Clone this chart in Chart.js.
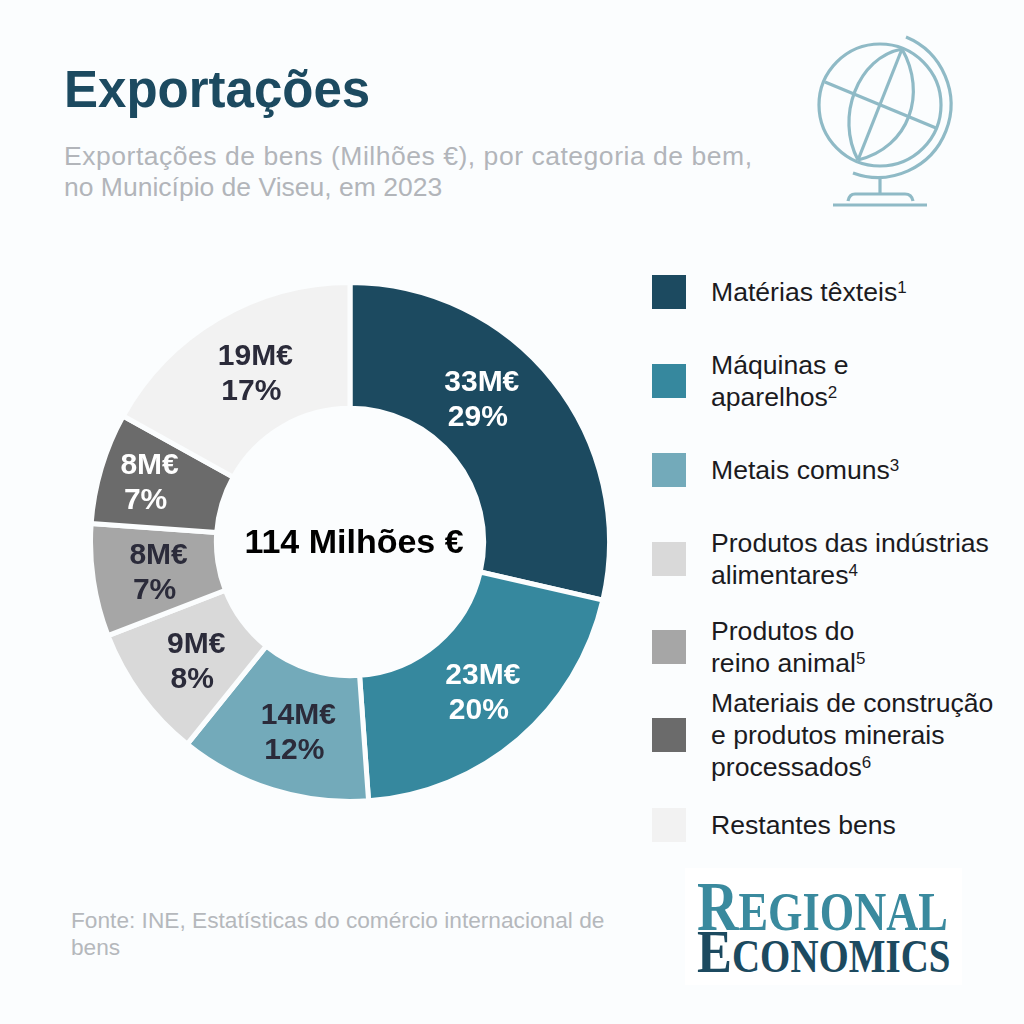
<!DOCTYPE html>
<html lang="pt">
<head>
<meta charset="utf-8">
<script src="https://cdn.jsdelivr.net/npm/chart.js@4"></script>
<style>
html, body { margin: 0; padding: 0; }
body { width: 1024px; height: 1024px; background: #fbfdfe; position: relative; overflow: hidden;
       font-family: "Liberation Sans", sans-serif; }
.abs { position: absolute; white-space: nowrap; }
#title { left: 64px; top: 60px; font-size: 51px; line-height: 60px; font-weight: bold; color: #1c4a60; }
#subtitle { left: 64px; top: 141px; font-size: 26.5px; line-height: 31px; color: #b2b5ba; }
#subtitle span { letter-spacing: 0.53px; }
#source { left: 71px; top: 907px; font-size: 22.7px; line-height: 27px; color: #b5b8bc; }
#chartBox { left: 88px; top: 280px; width: 524px; height: 524px; }
.swatch { position: absolute; left: 652px; width: 34px; height: 34px; }
.entry { position: absolute; left: 711px; font-size: 26.6px; line-height: 32px; color: #1b1b1f; white-space: nowrap; }
.entry sup { font-size: 17px; line-height: 0; vertical-align: 8px; }
#logo { left: 685px; top: 868px; width: 277px; height: 117px; background: #fff; }
.logoLine { position: absolute; left: 12px; font-family: "Liberation Serif", serif; font-weight: bold; line-height: 60px; white-space: nowrap; transform-origin: left center; }
</style>
</head>
<body>
<div class="abs" id="title">Exportações</div>
<div class="abs" id="subtitle"><span>Exportações de bens (Milhões €), por categoria de bem,</span><br>no Município de Viseu, em 2023</div>
<div class="abs" id="source">Fonte: INE, Estatísticas do comércio internacional de<br>bens</div>

<svg class="abs" style="left:0;top:0" width="1024" height="260" fill="none" stroke="#8fbac6" stroke-width="3.2">
  <circle cx="880" cy="105" r="61"/>
  <path d="M902 49 L858 160"/>
  <path d="M825 82 L936 128"/>
  <path d="M902 49 C858 57 835 117 858 160"/>
  <path d="M902 49 C927 93 910 147 858 160"/>
  <path d="M906 37 A73 73 0 0 1 853 173"/>
  <path d="M880 178 V194"/>
  <path d="M848 201 C849 196 851 194 855 194 H905 C909 194 912 196 913 201"/>
  <path d="M833 205 H927"/>
</svg>

<div class="abs" id="chartBox"><canvas id="myChart"></canvas></div>

<div id="legend"></div>

<div class="abs" id="logo">
  <div class="logoLine" id="logoTop" style="top:9px;color:#3a8a9e;font-size:54px"><span style="font-size:70px">R</span>EGIONAL</div>
  <div class="logoLine" id="logoBottom" style="top:53px;color:#1c4a60;font-size:46px"><span style="font-size:62px">E</span>CONOMICS</div>
</div>

<script>
// data
const categories = ['Matérias têxteis', 'Máquinas e aparelhos', 'Metais comuns', 'Produtos das indústrias alimentares',
    'Produtos do reino animal', 'Materiais de construção e produtos minerais processados', 'Restantes bens'];
const values = [32.6, 23.1, 13.6, 9.5, 8, 7.9, 19.3];
const amountLabels = ['33M€', '23M€', '14M€', '9M€', '8M€', '8M€', '19M€'];
const percentLabels = ['29%', '20%', '12%', '8%', '7%', '7%', '17%'];
const colors = ['#1c4a60', '#36889e', '#73aaba', '#d9d9d9', '#a6a6a6', '#6b6b6b', '#f2f2f2'];
const labelColors = ['#ffffff', '#ffffff', '#2b2b3a', '#2b2b3a', '#2b2b3a', '#ffffff', '#2b2b3a'];
const total = '114 Milhões €';

// labels are hand placed in the original, not on the slice centre
const labelNudgeX = [-22, 5, 7, 5, 3, -12, 5];
const labelNudgeY = [-19, 2, 4, 4, 2, -3, 2];

// legend
const legendLines = [
    ['Matérias têxteis'],
    ['Máquinas e', 'aparelhos'],
    ['Metais comuns'],
    ['Produtos das indústrias', 'alimentares'],
    ['Produtos do', 'reino animal'],
    ['Materiais de construção', 'e produtos minerais', 'processados'],
    ['Restantes bens']
];
const legendTops = [275, 364, 453, 542, 630, 718, 808];
const legend = document.getElementById('legend');
legendLines.forEach((lines, i) => {
    const swatch = document.createElement('div');
    swatch.className = 'swatch';
    swatch.style.top = legendTops[i] + 'px';
    swatch.style.background = colors[i];
    legend.appendChild(swatch);
    const entry = document.createElement('div');
    entry.className = 'entry';
    entry.style.top = (legendTops[i] + 17 - lines.length * 16) + 'px';
    // the last entry has no footnote
    const note = i < 6 ? '<sup>' + (i + 1) + '</sup>' : '';
    entry.innerHTML = lines.join('<br>') + note;
    legend.appendChild(entry);
});

// squeeze the logo lines to the original's width
[['logoTop', 251], ['logoBottom', 253]].forEach(([id, width]) => {
    const line = document.getElementById(id);
    line.style.transform = 'scaleX(' + width / line.offsetWidth + ')';
});

// slice labels and the total in the hole
const sliceLabels = {
    id: 'sliceLabels',
    afterDatasetsDraw(chart) {
        const { ctx } = chart;
        ctx.save();
        ctx.textAlign = 'center';
        ctx.textBaseline = 'middle';
        ctx.font = 'bold 30px "Liberation Sans"';
        chart.getDatasetMeta(0).data.forEach((arc, i) => {
            const p = arc.getCenterPoint();
            const x = p.x + labelNudgeX[i];
            const y = p.y + labelNudgeY[i];
            ctx.fillStyle = labelColors[i];
            ctx.fillText(amountLabels[i], x, y - 17.5);
            ctx.fillText(percentLabels[i], x - 4, y + 17.5);
        });
        const first = chart.getDatasetMeta(0).data[0];
        ctx.fillStyle = '#000000';
        ctx.font = 'bold 34px "Liberation Sans"';
        ctx.fillText(total, first.x + 4, first.y + 2);
        ctx.restore();
    }
};

// render
const myChart = new Chart(document.getElementById('myChart'), {
    type: 'doughnut',
    data: {
        labels: categories,
        datasets: [{
            data: values,
            backgroundColor: colors,
            borderColor: '#fbfdfe',
            borderWidth: 5
        }]
    },
    options: {
        responsive: true,
        maintainAspectRatio: false,
        animation: false,
        cutout: '51.5%',
        layout: { padding: 0 },
        plugins: {
            legend: { display: false },
            tooltip: { enabled: false }
        }
    },
    plugins: [sliceLabels]
});
</script>
</body>
</html>
